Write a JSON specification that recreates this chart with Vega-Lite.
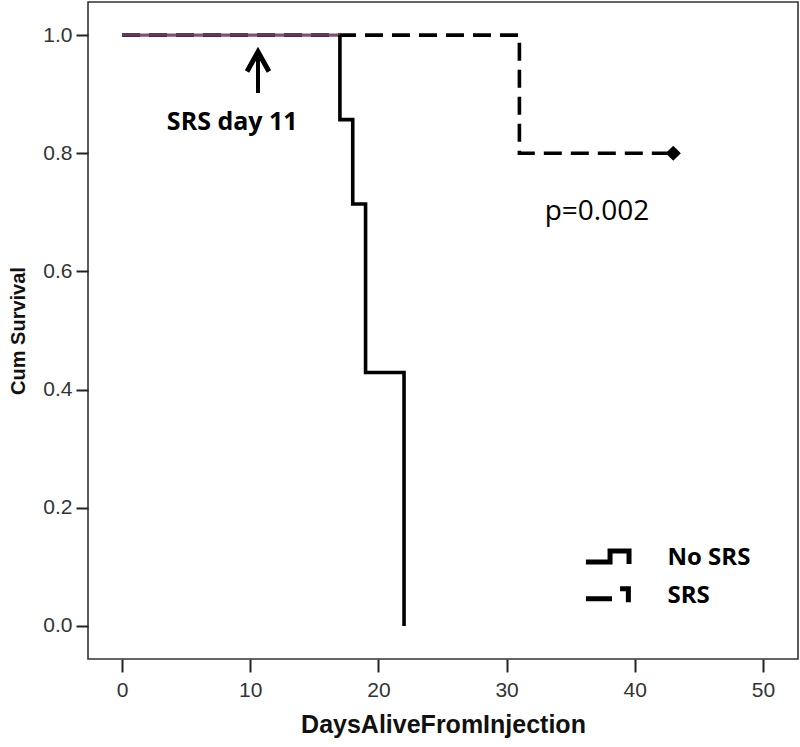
{
  "$schema": "https://vega.github.io/schema/vega-lite/v6.json",
  "width": 710,
  "height": 657,
  "autosize": {"type": "none"},
  "padding": {"left": 88, "top": 2, "right": 2, "bottom": 88},
  "background": "white",
  "config": {
    "view": {"stroke": "#333333", "strokeWidth": 1.6},
    "axis": {
      "grid": false,
      "domain": false,
      "tickColor": "#222222",
      "tickWidth": 2,
      "tickSize": 13,
      "labelFont": "Liberation Sans Narrow, Liberation Sans",
      "labelFontSize": 21,
      "labelColor": "#333333",
      "titleFont": "Liberation Sans",
      "titleFontWeight": "bold",
      "titleColor": "#111111"
    }
  },
  "datasets": {
    "curves": [
      {"group": "SRS", "day": 0, "surv": 1.0, "o": 1},
      {"group": "SRS", "day": 31, "surv": 1.0, "o": 2},
      {"group": "SRS", "day": 31, "surv": 0.8, "o": 3},
      {"group": "SRS", "day": 43, "surv": 0.8, "o": 4},
      {"group": "No SRS early", "day": 0, "surv": 1.0, "o": 1},
      {"group": "No SRS early", "day": 17, "surv": 1.0, "o": 2},
      {"group": "No SRS", "day": 17, "surv": 1.0, "o": 1},
      {"group": "No SRS", "day": 17, "surv": 0.857, "o": 2},
      {"group": "No SRS", "day": 18, "surv": 0.857, "o": 3},
      {"group": "No SRS", "day": 18, "surv": 0.714, "o": 4},
      {"group": "No SRS", "day": 19, "surv": 0.714, "o": 5},
      {"group": "No SRS", "day": 19, "surv": 0.429, "o": 6},
      {"group": "No SRS", "day": 22, "surv": 0.429, "o": 7},
      {"group": "No SRS", "day": 22, "surv": 0.0, "o": 8}
    ],
    "censor": [{"group": "SRS", "day": 43, "surv": 0.8}],
    "arrowShaft": [{"day": 10.61, "y1": 0.902, "y2": 0.966}],
    "arrowHead": [{"day": 10.61, "surv": 0.955}],
    "labels": [
      {"text": "SRS day 11", "day": 8.6, "surv": 0.839, "kind": "center"},
      {"text": "No SRS", "day": 42.55, "surv": 0.103, "kind": "left"},
      {"text": "SRS", "day": 42.55, "surv": 0.039, "kind": "left"}
    ],
    "pvalue": [{"text": "p=0.002", "day": 37.05, "surv": 0.687}],
    "legendIcons": [
      {"piece": "a", "day": 36.19, "surv": 0.108, "o": 1},
      {"piece": "a", "day": 38.07, "surv": 0.108, "o": 2},
      {"piece": "a", "day": 38.07, "surv": 0.127, "o": 3},
      {"piece": "a", "day": 39.55, "surv": 0.127, "o": 4},
      {"piece": "a", "day": 39.55, "surv": 0.105, "o": 5},
      {"piece": "b", "day": 36.19, "surv": 0.046, "o": 1},
      {"piece": "b", "day": 38.22, "surv": 0.046, "o": 2},
      {"piece": "c", "day": 38.85, "surv": 0.063, "o": 1},
      {"piece": "c", "day": 39.5, "surv": 0.063, "o": 2},
      {"piece": "c", "day": 39.5, "surv": 0.040, "o": 3}
    ]
  },
  "layer": [
    {
      "data": {"name": "curves"},
      "transform": [{"filter": "datum.group === 'SRS'"}],
      "mark": {"type": "line", "color": "black", "strokeWidth": 3.6, "strokeDash": [18, 9], "strokeCap": "butt"},
      "encoding": {
        "x": {
          "field": "day", "type": "quantitative",
          "scale": {"domain": [-2.65, 52.73], "nice": false, "zero": false},
          "axis": {"values": [0, 10, 20, 30, 40, 50], "title": "DaysAliveFromInjection", "titleFontSize": 25, "labelPadding": 7, "titlePadding": 12}
        },
        "y": {
          "field": "surv", "type": "quantitative",
          "scale": {"domain": [-0.056, 1.056], "nice": false, "zero": false},
          "axis": {"values": [0, 0.2, 0.4, 0.6, 0.8, 1.0], "format": ".1f", "title": "Cum Survival", "titleFontSize": 20, "tickSize": 12, "labelPadding": 4, "titlePadding": 14}
        },
        "order": {"field": "o", "type": "quantitative"}
      }
    },
    {
      "data": {"name": "curves"},
      "transform": [{"filter": "datum.group === 'No SRS early'"}],
      "mark": {"type": "line", "color": "#6e3f62", "strokeWidth": 3.2, "opacity": 0.9},
      "encoding": {
        "x": {"field": "day", "type": "quantitative"},
        "y": {"field": "surv", "type": "quantitative"},
        "order": {"field": "o", "type": "quantitative"}
      }
    },
    {
      "data": {"name": "curves"},
      "transform": [{"filter": "datum.group === 'No SRS'"}],
      "mark": {"type": "line", "color": "black", "strokeWidth": 3.6, "strokeJoin": "miter"},
      "encoding": {
        "x": {"field": "day", "type": "quantitative"},
        "y": {"field": "surv", "type": "quantitative"},
        "order": {"field": "o", "type": "quantitative"}
      }
    },
    {
      "data": {"name": "censor"},
      "mark": {"type": "point", "shape": "diamond", "filled": true, "color": "black", "size": 230, "opacity": 1},
      "encoding": {
        "x": {"field": "day", "type": "quantitative"},
        "y": {"field": "surv", "type": "quantitative"}
      }
    },
    {
      "data": {"name": "arrowShaft"},
      "mark": {"type": "rule", "color": "black", "strokeWidth": 4},
      "encoding": {
        "x": {"field": "day", "type": "quantitative"},
        "y": {"field": "y1", "type": "quantitative"},
        "y2": {"field": "y2"}
      }
    },
    {
      "data": {"name": "arrowHead"},
      "mark": {"type": "point", "shape": "M-1,0.9L0,-0.9L1,0.9", "filled": false, "color": "black", "strokeWidth": 5, "size": 480, "opacity": 1, "strokeJoin": "miter"},
      "encoding": {
        "x": {"field": "day", "type": "quantitative"},
        "y": {"field": "surv", "type": "quantitative"}
      }
    },
    {
      "data": {"name": "legendIcons"},
      "mark": {"type": "line", "color": "black", "strokeWidth": 5, "strokeJoin": "miter"},
      "encoding": {
        "x": {"field": "day", "type": "quantitative"},
        "y": {"field": "surv", "type": "quantitative"},
        "detail": {"field": "piece"},
        "order": {"field": "o", "type": "quantitative"}
      }
    },
    {
      "data": {"name": "labels"},
      "transform": [{"filter": "datum.kind === 'center'"}],
      "mark": {"type": "text", "font": "Open Sans", "fontWeight": "bold", "fontSize": 25, "color": "black", "baseline": "alphabetic", "align": "center"},
      "encoding": {
        "x": {"field": "day", "type": "quantitative"},
        "y": {"field": "surv", "type": "quantitative"},
        "text": {"field": "text"}
      }
    },
    {
      "data": {"name": "labels"},
      "transform": [{"filter": "datum.kind === 'left'"}],
      "mark": {"type": "text", "font": "Open Sans", "fontWeight": "bold", "fontSize": 24, "color": "black", "baseline": "alphabetic", "align": "left"},
      "encoding": {
        "x": {"field": "day", "type": "quantitative"},
        "y": {"field": "surv", "type": "quantitative"},
        "text": {"field": "text"}
      }
    },
    {
      "data": {"name": "pvalue"},
      "mark": {"type": "text", "font": "Open Sans", "fontSize": 28, "color": "black", "baseline": "alphabetic", "align": "center"},
      "encoding": {
        "x": {"field": "day", "type": "quantitative"},
        "y": {"field": "surv", "type": "quantitative"},
        "text": {"field": "text"}
      }
    }
  ]
}
